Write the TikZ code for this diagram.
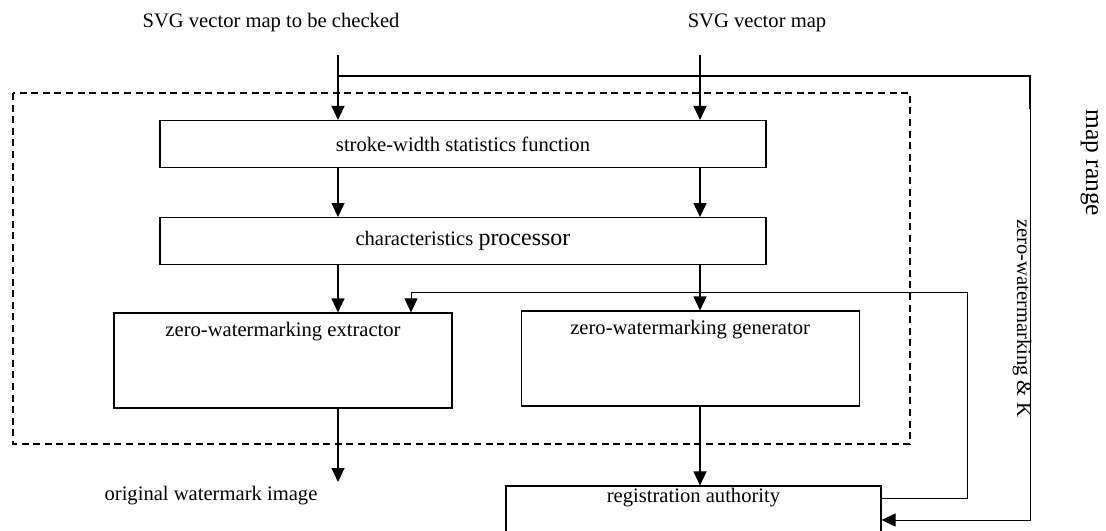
\documentclass[tikz,border=0pt]{standalone}
\usepackage{fontspec}
\setmainfont{Liberation Serif}
\usetikzlibrary{arrows.meta,positioning}
\tikzset{block/.style = {draw, inner sep=0pt}}
\tikzset{wide/.style = {block, minimum width=303pt, minimum height=23.5pt}}
\tikzset{unit/.style = {block, minimum width=169pt, minimum height=47.5pt}}
\tikzset{caption/.style = {font=\fontsize{10.3}{12}\selectfont}}
\tikzset{side/.style = {caption, rotate=-90}}
\tikzset{frame/.style = {dash pattern=on 3.5pt off 2.3pt}}
\tikzset{feed/.style = {->, line width=0.4pt}}

\begin{document}
\begin{tikzpicture}[x=0.5pt, y=-0.5pt, >={Triangle[length=7pt, width=6.5pt]}, line width=0.55pt, font=\fontsize{10.3}{12}\selectfont]
  \useasboundingbox (0,0) rectangle (1106,530);

  \node [caption] (src1) at (271,23) {SVG vector map to be checked};
  \node [caption] (src2) at (757,23) {SVG vector map};

  \node [wide] (stroke) at (463,144) {stroke-width statistics function};
  \node [wide, below=24.5pt of stroke] (char) {characteristics {\fontsize{12}{14}\selectfont processor}};
  \node [unit, label={[inner sep=0pt, anchor=north, yshift=-4.8pt]north:zero-watermarking extractor}] (extractor) at (283,360.5) {};
  \node [unit, right=34pt of extractor, yshift=1pt, label={[inner sep=0pt, anchor=north, yshift=-4.8pt]north:zero-watermarking generator}] (generator) {};
  \node [block, minimum width=187.5pt, minimum height=30pt, label={[inner sep=0pt, anchor=north, yshift=-1.3pt]north:registration authority}] (reg) at (693.5,516) {};

  \node [caption] (wmtext) at (211,496) {original watermark image};
  \node [side, font=\fontsize{12.7}{14}\selectfont] (range) at (1090,163) {map range};
  \node [side] (keys) at (1022,318) {zero-watermarking \& K};

  \draw [frame] (13,93) rectangle (910,444);

  \coordinate (top1) at (338,55);
  \coordinate (top2) at (700,55);
  \coordinate (split) at (338,76);
  \coordinate (rtop) at (1030,76);
  \coordinate (rmid) at (1030,109);
  \coordinate (rbot) at (1030,520);
  \coordinate (ltop) at (967,292);
  \coordinate (lbot) at (967,498);
  \coordinate (fb) at (411,292);
  \coordinate (wm) at (338,482);

  \draw [->] (top1) -- (top1 |- stroke.north);
  \draw [->] (top2) -- (top2 |- stroke.north);
  \draw [->] (stroke.south -| top1) -- (char.north -| top1);
  \draw [->] (stroke.south -| top2) -- (char.north -| top2);
  \draw [->] (char.south -| top1) -- (extractor.north -| top1);
  \draw [->] (char.south -| top2) -- (generator.north -| top2);
  \draw [->] (extractor.south -| top1) -- (wm);
  \draw [->] (generator.south -| top2) -- (reg.north -| top2);

  \draw (split) -- (rtop) -- (rmid);
  \draw [feed] (rmid) -- (rbot) -- (rbot -| reg.east);
  \draw [feed] (lbot -| reg.east) -- (lbot) -- (ltop) -- (fb) -- (fb |- extractor.north);
\end{tikzpicture}
\end{document}
